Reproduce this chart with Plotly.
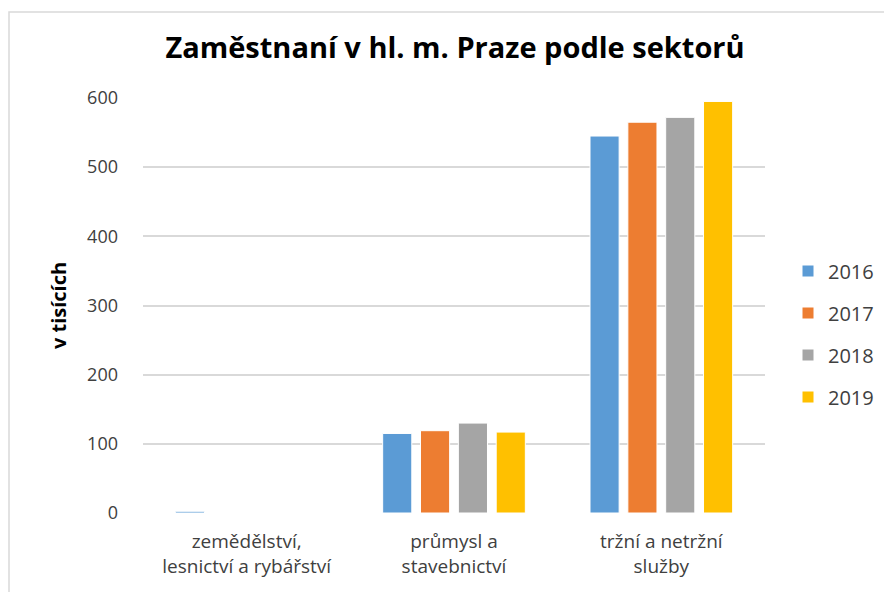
import plotly.graph_objects as go

# data (thousands of employees)
sectors = ["zemědělství,<br>lesnictví a rybářství", "průmysl a<br>stavebnictví", "tržní a netržní<br>služby"]
years = ["2016", "2017", "2018", "2019"]
v2016 = [2.5, 115, 545]
v2017 = [0, 119, 565]
v2018 = [0, 130, 572]
v2019 = [0, 117, 595]
colors = ["#5B9BD5", "#ED7D31", "#A5A5A5", "#FFC000"]

series = [v2016, v2017, v2018, v2019]

fig = go.Figure()
for yr, vals, col in zip(years, series, colors):
    fig.add_trace(go.Bar(
        x=sectors, y=vals, name=yr, legendgroup=yr,
        marker=dict(color=col, line=dict(color="white", width=1)),
    ))

# the page body adds an 8px offset, so everything is shifted up/left by 8
OFF = 8
W, H = 892, 592
L, R, T, B = 143 - OFF, 127 + OFF, 98 - OFF, 79 + OFF
pw, ph = W - L - R, H - T - B

fig.update_layout(
    width=W, height=H,
    margin=dict(l=L, r=R, t=T, b=B),
    paper_bgcolor="white", plot_bgcolor="white",
    font=dict(family="Open Sans", size=18, color="#404040"),
    title=dict(text="<b>Zaměstnaní v hl. m. Praze podle sektorů</b>",
               font=dict(size=29, color="black"),
               x=(455 - OFF) / W, xanchor="center", y=1 - (48 - OFF) / H, yanchor="middle"),
    barmode="group", bargap=0.27, bargroupgap=0.23,
    legend=dict(x=(788 - 143) / 622, xanchor="left", y=(513 - 334) / 415, yanchor="middle",
                font=dict(size=20, color="#404040"), tracegroupgap=13,
                itemwidth=30),
    showlegend=True,
)
fig.update_xaxes(showgrid=False, showline=False, ticks="", ticklabelstandoff=15,
                 tickfont=dict(size=19, color="#404040"))
fig.update_yaxes(range=[0, 600], dtick=100, gridcolor="#D9D9D9", gridwidth=1.5,
                 zeroline=False, showline=False, ticks="", ticklabelstandoff=24,
                 tickfont=dict(size=18, color="#404040"),
                 title=dict(text="<b>v tisících</b>", font=dict(size=20, color="black"),
                            standoff=15))

# outer chart frame (cropped on right and bottom in the reference)
fig.add_shape(type="rect", xref="paper", yref="paper",
              x0=(1 - L) / pw, x1=(W + 20 - L) / pw,
              y0=-(H + 20 - 513) / ph, y1=(513 - 12) / ph,
              line=dict(color="#D9D9D9", width=1.5), layer="below")

fig.write_html("out.html")
